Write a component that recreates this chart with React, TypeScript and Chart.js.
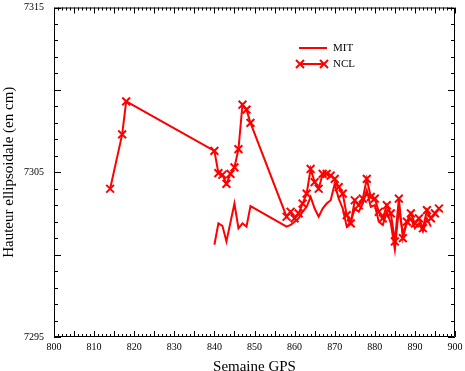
import React, { useEffect, useRef } from "react";
import { Chart, registerables } from "chart.js";

Chart.register(...registerables);

const nclWeeks = [814, 817, 818, 840, 841, 842, 843, 844, 845, 846, 847, 848, 849,
  858, 859, 860, 861, 862, 863, 864, 865, 866, 867, 868, 869, 870, 871, 872, 873, 874, 875, 876, 877, 878, 879,
  880, 881, 882, 883, 884, 885, 886, 887, 888, 889, 890, 891, 892, 893, 894, 895, 896];
const nclValues = [7304.0, 7307.3, 7309.3, 7306.3, 7304.95, 7304.85, 7304.3, 7304.9, 7305.3, 7306.4, 7309.1, 7308.8, 7308.0,
  7302.3, 7302.6, 7302.2, 7302.5, 7303.1, 7303.7, 7305.2, 7304.4, 7304.0, 7304.9, 7304.9, 7304.8, 7304.6, 7304.1, 7303.7, 7302.4, 7301.9, 7303.3, 7303.0, 7303.4, 7304.6, 7303.5,
  7303.4, 7302.6, 7302.2, 7303.0, 7302.5, 7300.8, 7303.4, 7301.0, 7302.0, 7302.5, 7301.9, 7302.2, 7301.6, 7302.7, 7302.2, 7302.5, 7302.8];

const mitWeeks = [840, 841, 842, 843, 845, 846, 847, 848, 849,
  858, 859, 860, 861, 862, 863, 864, 865, 866, 867, 868, 869, 870, 871, 872, 873, 874, 875, 876, 877, 878, 879,
  880, 881, 882, 883, 884, 885, 886, 887, 888, 889, 890, 891, 892, 893, 894];
const mitValues = [7300.6, 7301.9, 7301.75, 7300.8, 7303.1, 7301.6, 7301.9, 7301.7, 7302.95,
  7301.7, 7301.8, 7302.0, 7302.2, 7302.6, 7302.9, 7303.5, 7302.8, 7302.3, 7302.8, 7303.1, 7303.3, 7304.3, 7303.4, 7302.8, 7301.7, 7302.0, 7302.8, 7302.6, 7303.1, 7303.9, 7302.9,
  7303.0, 7302.0, 7301.8, 7302.6, 7301.9, 7300.3, 7302.8, 7301.3, 7301.9, 7302.2, 7301.6, 7301.9, 7301.4, 7302.2, 7301.7];

const xMin = 800, xMax = 900, xLabelStep = 10;
const yMin = 7295, yMax = 7315, yLabelStep = 10;
const seriesNames = ["MIT", "NCL"];
const xTitle = "Semaine GPS";
const yTitle = "Hauteur ellipsoidale (en cm)";

const RED = "#ff0000";
const SERIF = "'Liberation Serif', 'DejaVu Serif', serif";

const framePlugin = {
  id: "frame",
  afterDraw(chart: any) {
    const { ctx, chartArea: a, scales } = chart;
    const xs = scales.x, ys = scales.y;
    ctx.save();
    ctx.strokeStyle = "#000";
    ctx.lineWidth = 1;
    ctx.beginPath();
    ctx.rect(a.left + 0.5, a.top + 0.5, a.right - a.left - 1, a.bottom - a.top - 1);
    ctx.stroke();
    ctx.beginPath();
    for (let v = xMin; v <= xMax; v += 1) {
      const px = Math.round(xs.getPixelForValue(v)) + 0.5;
      const len = v % 5 === 0 ? 6 : 3;
      ctx.moveTo(px, a.bottom);
      ctx.lineTo(px, a.bottom - len);
      ctx.moveTo(px, a.top);
      ctx.lineTo(px, a.top + len);
    }
    for (let v = yMin; v <= yMax; v += 1) {
      const py = Math.round(ys.getPixelForValue(v)) + 0.5;
      const len = v % 5 === 0 ? 7 : 4;
      ctx.moveTo(a.left, py);
      ctx.lineTo(a.left + len, py);
      ctx.moveTo(a.right, py);
      ctx.lineTo(a.right - len, py);
    }
    ctx.stroke();

    // legend
    ctx.strokeStyle = RED;
    ctx.lineWidth = 2;
    ctx.beginPath();
    ctx.moveTo(299, 48);
    ctx.lineTo(327, 48);
    ctx.moveTo(300, 64);
    ctx.lineTo(324, 64);
    for (const cx of [300, 324]) {
      ctx.moveTo(cx - 4, 60);
      ctx.lineTo(cx + 4, 68);
      ctx.moveTo(cx + 4, 60);
      ctx.lineTo(cx - 4, 68);
    }
    ctx.stroke();
    ctx.fillStyle = "#000";
    ctx.font = "11px " + SERIF;
    ctx.textBaseline = "middle";
    ctx.textAlign = "left";
    ctx.fillText(seriesNames[0], 333, 48);
    ctx.fillText(seriesNames[1], 333, 64);
    ctx.restore();
  },
};

export default function App() {
  const ref = useRef<HTMLCanvasElement>(null);
  useEffect(() => {
    document.body.style.margin = "0";
    const chart = new Chart(ref.current!, {
      type: "line",
      data: {
        datasets: [
          {
            label: seriesNames[0],
            data: mitWeeks.map((w, i) => ({ x: w, y: mitValues[i] })),
            borderColor: RED,
            backgroundColor: RED,
            borderWidth: 2,
            pointRadius: 0,
            tension: 0,
          },
          {
            label: seriesNames[1],
            data: nclWeeks.map((w, i) => ({ x: w, y: nclValues[i] })),
            borderColor: RED,
            backgroundColor: RED,
            borderWidth: 2,
            pointStyle: "crossRot",
            pointRadius: 5.5,
            pointBorderWidth: 2,
            tension: 0,
          },
        ],
      },
      options: {
        animation: false,
        responsive: false,
        events: [],
        layout: { padding: { top: 5, right: 10, left: 0, bottom: 0 } },
        plugins: { legend: { display: false }, tooltip: { enabled: false } },
        scales: {
          x: {
            type: "linear",
            min: xMin,
            max: xMax,
            grid: { display: false, drawTicks: false },
            border: { display: false },
            ticks: {
              stepSize: xLabelStep,
              color: "#000",
              font: { family: SERIF, size: 10, lineHeight: 1 },
              padding: 5,
              maxRotation: 0,
              callback: (v: any) => String(v),
            },
            title: { display: true, text: xTitle, color: "#000", font: { family: SERIF, size: 15 }, padding: { top: 0, bottom: -5 } },
            afterFit: (s: any) => { s.height = 34; s.paddingLeft = 0; s.paddingRight = 0; },
          },
          y: {
            type: "linear",
            min: yMin,
            max: yMax,
            grid: { display: false, drawTicks: false },
            border: { display: false },
            ticks: {
              stepSize: yLabelStep,
              color: "#000",
              font: { family: SERIF, size: 10, lineHeight: 1 },
              padding: 10,
              callback: (v: any) => String(v),
            },
            title: { display: true, text: yTitle, color: "#000", font: { family: SERIF, size: 15 }, padding: { top: 0, bottom: 0 } },
            afterFit: (s: any) => { s.width = 54; s.paddingTop = 0; s.paddingBottom = 0; },
          },
        },
      },
      plugins: [framePlugin],
    } as any);
    return () => chart.destroy();
  }, []);
  return (
    <div style={{ position: "absolute", left: 0, top: 0, width: 465, height: 371, background: "#fff" }}>
      <canvas ref={ref} width={465} height={371} style={{ display: "block" }} />
    </div>
  );
}
